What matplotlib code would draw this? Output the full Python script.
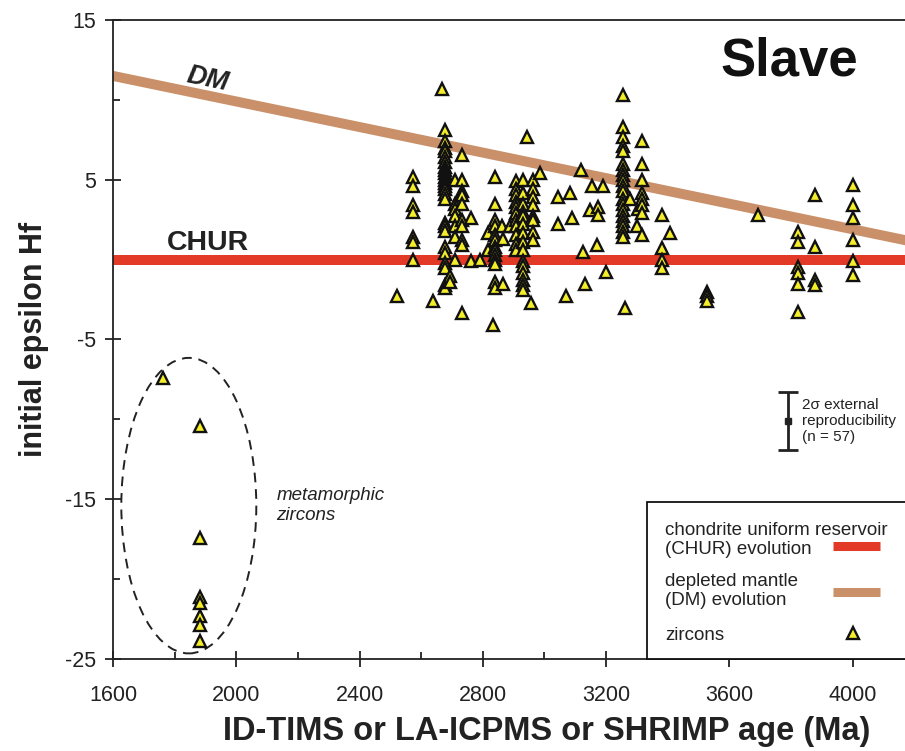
import matplotlib
matplotlib.use("Agg")
import matplotlib.pyplot as plt
from matplotlib.patches import Ellipse, Rectangle
from matplotlib.lines import Line2D

plt.rcParams['font.family'] = ['Liberation Sans', 'DejaVu Sans']
plt.rcParams['axes.unicode_minus'] = False

# zircon Hf data (age in Ma, initial eHf)
zircon_age = [
    2520,
    2574, 2574, 2574, 2574, 2574, 2574, 2574,
    2639, 2666,
    2677, 2677, 2677, 2677, 2677, 2677, 2677, 2677, 2677, 2677, 2677,
    2677, 2677, 2677, 2677, 2677, 2677, 2677, 2677, 2677, 2677, 2677,
    2677, 2677, 2677,
    2693, 2693,
    2709, 2709, 2709, 2709, 2709, 2709, 2709,
    2734, 2734, 2734, 2734, 2734, 2734, 2734, 2734, 2734,
    2731, 2763, 2763, 2790, 2817, 2817, 2834,
    2839, 2839, 2839, 2839, 2839, 2839, 2839, 2839, 2839, 2839, 2839, 2839, 2839,
    2861, 2866, 2866, 2888,
    2907, 2907, 2907, 2907, 2907, 2907, 2907, 2907, 2907, 2907, 2907,
    2931, 2931, 2931, 2931, 2931, 2931, 2931, 2931, 2931, 2931, 2931, 2931, 2931,
    2931, 2931,
    2942, 2958,
    2962, 2962, 2962, 2962, 2962, 2962, 2962, 2962,
    2985, 3044, 3044, 3071, 3082, 3088, 3120, 3125, 3131, 3147, 3153, 3169,
    3174, 3174, 3190, 3201,
    3255, 3255, 3255, 3255, 3255, 3255, 3255, 3255, 3255, 3255, 3255, 3255,
    3255, 3255, 3255, 3255, 3255, 3255, 3255,
    3261, 3277, 3299, 3304,
    3315, 3315, 3315, 3315, 3315, 3315, 3315, 3315,
    3380, 3380, 3380, 3380, 3407,
    3526, 3526, 3526,
    3693,
    3823, 3823, 3823, 3823, 3823, 3823,
    3877, 3877, 3877, 3877,
    4001, 4001, 4001, 4001, 4001, 4001,
]
zircon_ehf = [
    -2.3,
    5.2, 4.6, 3.4, 3.0, 1.4, 1.1, 0.0,
    -2.6, 10.7,
    8.1, 7.4, 7.0, 6.8, 6.4, 6.1, 5.8, 5.6, 5.4, 5.2, 5.0,
    4.8, 4.6, 4.4, 4.1, 3.8, 2.3, 2.1, 1.8, 0.8, 0.4, -0.2,
    -0.5, -1.6, -1.8,
    -1.0, -1.4,
    5.0, 3.5, 3.2, 2.7, 2.1, 1.4, 0.0,
    6.55, 5.0, 4.3, 4.05, 3.5, 2.5, 2.1, 1.2, 0.9,
    -3.35, 2.6, -0.1, 0.0, 1.65, 0.6, -4.1,
    5.2, 3.5, 2.5, 2.1, 1.55, 1.2, 0.8, 0.6, 0.3, 0.0, -0.3, -1.4, -1.8,
    2.1, 1.3, -1.5, 2.1,
    4.9, 4.4, 4.05, 3.6, 3.3, 2.9, 2.5, 2.1, 1.55, 1.0, 0.6,
    5.0, 4.15, 3.5, 3.0, 2.7, 2.2, 1.65, 1.1, 0.6, -0.1, -0.4, -0.85, -1.3,
    -1.6, -1.9,
    7.7, -2.7,
    5.0, 4.4, 3.9, 3.4, 2.7, 2.5, 1.75, 1.2,
    5.4, 3.9, 2.2, -2.3, 4.15, 2.6, 5.6, 0.5, -1.5, 3.1, 4.6, 0.9,
    3.3, 2.8, 4.6, -0.75,
    10.3, 8.3, 7.7, 7.1, 6.8, 6.0, 5.6, 5.3, 5.0, 4.6, 4.3, 3.8,
    3.5, 3.1, 2.7, 2.4, 2.1, 1.75, 1.4,
    -3.0, 3.8, 2.1, 3.2,
    7.4, 6.0, 5.0, 4.15, 3.8, 3.4, 2.9, 1.55,
    2.8, 0.7, 0.0, -0.5, 1.65,
    -2.0, -2.3, -2.6,
    2.8,
    1.75, 1.1, -0.45, -0.85, -1.5, -3.25,
    4.05, 0.8, -1.3, -1.6,
    4.7, 3.4, 2.6, 1.2, -0.1, -0.95,
]

# metamorphic zircons
meta_age = [1762, 1882, 1882, 1882, 1882, 1882, 1882, 1882]
meta_ehf = [-7.4, -10.4, -17.4, -21.1, -21.5, -22.3, -22.9, -23.9]

# reference evolution lines
chur_age = [1600, 4200]
chur_ehf = [0.0, 0.0]
dm_age = [1600, 4200]
dm_ehf = [11.5, 1.1]

# 2 sigma external reproducibility bar
err_age = 3789
err_ehf = -10.1
err_2s = 1.8

# ellipse around the metamorphic grains (centre, width, height in data units)
ell_center = (1846, -15.4)
ell_width = 438
ell_height = 18.5

xticks_major = [1600, 2000, 2400, 2800, 3200, 3600, 4000]
xticks_minor = [1800, 2200, 2600, 3000, 3400, 3800]
yticks_major = [15, 5, -5, -15, -25]
yticks_minor = [10, 0, -10, -20]

chur_col = '#E33A27'
dm_col = '#C99069'
tri_col = '#F4EE2A'
ink = '#222222'

fig = plt.figure(figsize=(9.05, 7.51), dpi=100)
ax = fig.add_axes([113 / 905, 1 - 659 / 751, 1 - 113 / 905, 639 / 751])

ax.plot(chur_age, chur_ehf, color=chur_col, lw=7.2, solid_capstyle='butt', zorder=2)
ax.plot(dm_age, dm_ehf, color=dm_col, lw=7.2, solid_capstyle='butt', zorder=2)

tri_style = dict(ls='none', marker='^', ms=9, mfc=tri_col, mec='#111111', mew=1.7)
ax.plot(zircon_age, zircon_ehf, zorder=3, **tri_style)
ax.plot(meta_age, meta_ehf, zorder=3, **tri_style)

ax.add_patch(Ellipse(ell_center, ell_width, ell_height, fill=False, ls=(0, (5, 3.5)),
                     lw=1.4, color=ink, zorder=2))

ax.errorbar([err_age], [err_ehf], yerr=[err_2s], fmt='s', ms=4.5, color=ink,
            elinewidth=2.0, capsize=7, capthick=2.0, zorder=3)
ax.text(err_age + 48, err_ehf, '2\u03c3 external\nreproducibility\n(n = 57)',
        fontsize=11, va='center', ha='left', linespacing=1.15, color=ink)

ax.text(1908, 1.05, 'CHUR', fontsize=20.5, fontweight='bold', ha='center', va='center',
        color=ink)
ax.text(1908, 11.3, 'DM', fontsize=19.5, fontweight='bold', style='italic', ha='center',
        va='center', rotation=-11.7, color=ink)
ax.text(3793, 12.4, 'Slave', fontsize=38, fontweight='bold', ha='center', va='center',
        color='#111111')
ax.text(2130, -15.4, 'metamorphic\nzircons', fontsize=13.5, style='italic', ha='left',
        va='center', linespacing=1.2, color=ink)

# legend box in the lower right corner
ax.add_patch(Rectangle((0.674, 0.0), 0.33, 0.2457, transform=ax.transAxes, fc='white',
                       ec='#111111', lw=1.3, zorder=5, clip_on=False))
ax.text(0.697, 0.186, 'chondrite uniform reservoir\n(CHUR) evolution', transform=ax.transAxes,
        fontsize=13.5, ha='left', va='center', linespacing=1.15, zorder=6, color=ink)
ax.text(0.697, 0.106, 'depleted mantle\n(DM) evolution', transform=ax.transAxes,
        fontsize=13.5, ha='left', va='center', linespacing=1.15, zorder=6, color=ink)
ax.text(0.697, 0.037, 'zircons', transform=ax.transAxes,
        fontsize=13.5, ha='left', va='center', zorder=6, color=ink)
ax.add_line(Line2D([0.909, 0.968], [0.177, 0.177], transform=ax.transAxes, color=chur_col,
                   lw=6.5, solid_capstyle='butt', zorder=6))
ax.add_line(Line2D([0.909, 0.968], [0.105, 0.105], transform=ax.transAxes, color=dm_col,
                   lw=6.5, solid_capstyle='butt', zorder=6))
ax.add_line(Line2D([0.934], [0.041], transform=ax.transAxes, zorder=6, **tri_style))

ax.set_xlim(1600, 4170)
ax.set_ylim(-25, 15)
ax.set_xticks(xticks_major)
ax.set_xticks(xticks_minor, minor=True)
ax.set_yticks(yticks_major)
ax.set_yticks(yticks_minor, minor=True)
ax.tick_params(which='major', direction='inout', length=12, width=1.3, labelsize=15.5,
               colors=ink)
ax.tick_params(which='minor', direction='in', length=5, width=1.3, colors=ink)
ax.tick_params(axis='x', which='major', pad=13)
ax.tick_params(axis='y', which='major', pad=6)

for side in ['left', 'bottom', 'top']:
    ax.spines[side].set_linewidth(1.3)
    ax.spines[side].set_color(ink)
ax.spines['right'].set_visible(False)

ax.set_xlabel('ID-TIMS or LA-ICPMS or SHRIMP age (Ma)', fontsize=23.5, fontweight='bold',
              color=ink)
ax.xaxis.set_label_coords(0.548, -0.089)
ax.set_ylabel('initial epsilon Hf', fontsize=22, fontweight='bold', labelpad=12, color=ink)

fig.savefig('out.png', dpi=100)
